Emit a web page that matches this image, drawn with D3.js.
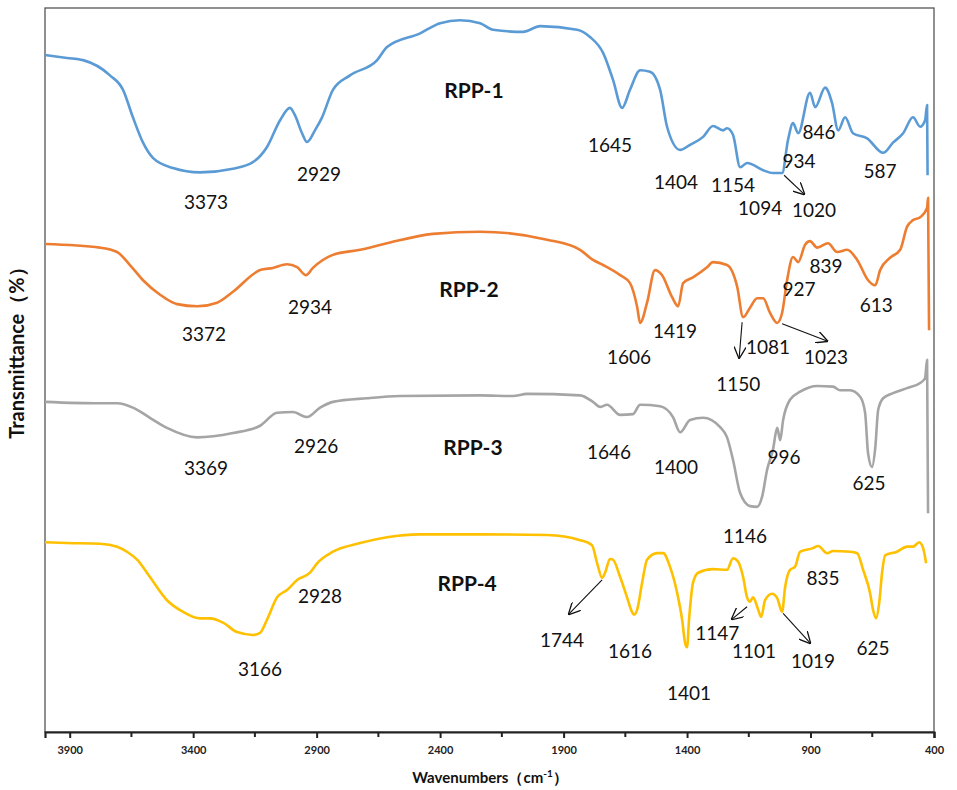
<!doctype html>
<html>
<head>
<meta charset="utf-8">
<title>FT-IR spectra RPP-1..4</title>
<script src="https://d3js.org/d3.v7.min.js"></script>
<style>
  body { margin: 0; background: #fff; }
  text { font-family: Lato, 'Noto Sans', sans-serif; }
  .peak { font-size: 19px; fill: #111; text-anchor: middle; dominant-baseline: central; }
  .name { font-size: 21px; font-weight: bold; fill: #111; text-anchor: middle; dominant-baseline: central; }
  .tick text { font-size: 11px; font-weight: bold; fill: #222; }
  .title { font-weight: bold; fill: #111; text-anchor: middle; }
</style>
</head>
<body>
<svg id="chart" width="957" height="790"></svg>
<script>
// ---- data (wavenumber cm-1, transmittance in arbitrary stacked units) ----
const xTicks = [3900, 3400, 2900, 2400, 1900, 1400, 900, 400];
const xMinorTicks = [3650, 3150, 2650, 2150, 1650, 1150, 650];

const rpp1Wn = [4000,3911,3846,3737,3684,3644,3603,3563,3482,3372,3239,3158,3101,3048,3008,2988,2959,2939,2907,2878,
  2834,2765,2655,2615,2481,2400,2319,2238,2186,2064,1995,1845,1793,1740,1700,1663,1631,1590,1550,1509,
  1481,1428,1388,1335,1295,1254,1238,1214,1185,1157,1092,1052,1015,991,971,950,902,881,841,813,
  788,760,728,671,606,566,525,485,456,436,428,426];
const rpp1T = [93.5,93.1,92.8,90.7,88.7,84.9,81.4,79.3,77.9,77.3,77.8,78.7,80.8,84.5,86.2,85.2,82.7,81.5,83.1,84.9,
  88.7,90.7,92.8,94.6,96.5,97.9,98.3,97.9,97.0,96.7,97.5,97.0,96.0,93.8,90.1,86.2,88.7,91.4,91.2,88.7,
  83.6,80.4,81.1,82.2,83.7,83.1,83.4,82.5,78.0,78.6,77.6,77.2,77.2,81.8,84.1,82.7,88.3,86.3,89.0,86.9,
  83.1,84.9,82.7,82.0,80.0,81.4,82.7,84.9,83.6,84.5,86.6,76.9];

const rpp2Wn = [4000,3777,3708,3656,3603,3534,3465,3384,3303,3239,3129,3077,3020,2979,2943,2915,2834,2724,2615,2429,
  2238,1967,1833,1781,1740,1671,1631,1602,1590,1562,1530,1501,1461,1436,1416,1376,1319,1295,1238,1197,
  1173,1145,1116,1092,1064,1035,1015,995,971,950,922,902,873,829,792,752,711,667,638,618,
  578,537,509,485,456,428,424,420];
const rpp2T = [67.4,66.9,66.3,64.5,62.4,60.4,59.1,58.8,59.3,60.8,63.8,64.1,64.6,64.2,63.1,64.1,65.9,66.6,67.5,68.8,
  69.1,68.0,66.6,65.2,64.5,63.1,62.0,58.7,56.5,59.3,63.8,63.1,60.1,58.8,62.0,62.8,64.2,64.9,64.5,61.5,
  57.3,58.6,59.9,59.9,57.9,56.5,57.9,62.4,65.6,64.9,67.3,67.8,66.9,67.5,66.3,66.6,65.2,62.4,61.7,63.8,
  65.5,66.6,69.8,70.7,71.1,72.4,73.8,55.5];

const rpp3Wn = [4000,3777,3708,3644,3575,3506,3384,3239,3129,3060,2996,2939,2886,2834,2696,2562,2238,2105,2048,1833,
  1781,1752,1724,1671,1619,1590,1509,1457,1428,1388,1335,1266,1238,1214,1185,1145,1116,1096,1076,1052,
  1035,1023,1011,983,942,873,809,780,740,699,679,667,651,638,626,606,566,509,456,436,428,424];
const rpp3T = [45.6,45.4,45.4,44.8,43.4,42.0,40.7,41.3,42.3,44.1,44.2,43.5,44.8,45.6,46.1,46.4,46.5,46.4,46.7,46.5,
  45.6,44.9,45.2,43.8,43.9,45.2,45.0,43.5,41.4,43.1,43.4,42.1,40.7,37.6,33.0,31.2,31.1,32.5,36.2,39.0,
  42.0,40.3,43.1,45.9,47.0,47.8,47.7,47.2,47.2,46.3,44.1,38.5,36.6,39.2,44.5,46.1,46.8,47.5,48.2,48.9,51.4,30.2];

const rpp4Wn = [4000,3911,3777,3708,3668,3627,3575,3506,3441,3372,3332,3279,3222,3158,3129,3101,3060,3020,2979,2927,
  2898,2834,2724,2615,2481,2238,1967,1833,1785,1764,1744,1732,1712,1700,1671,1643,1623,1615,1602,1582,
  1562,1521,1497,1469,1440,1420,1408,1400,1392,1376,1355,1295,1238,1214,1193,1173,1157,1145,1133,1112,
  1100,1084,1056,1035,1015,1003,983,963,942,890,869,833,809,740,711,687,659,647,635,622,
  610,598,550,509,485,460,444,432];
const rpp4T = [26.2,26.1,26.0,25.6,24.9,23.8,21.4,18.2,16.6,15.7,15.7,15.1,13.8,13.4,13.7,15.5,18.6,19.6,21.0,22.0,
  23.3,24.9,26.1,26.9,27.3,27.3,27.2,26.5,25.8,23.3,21.3,22.0,23.9,23.8,21.4,18.6,16.6,16.2,16.9,20.6,
  23.8,24.7,24.7,22.8,19.2,15.5,12.3,11.7,15.5,20.6,22.0,22.5,22.4,24.0,23.5,21.4,18.6,18.0,18.6,16.9,
  15.9,18.2,19.1,18.5,16.6,20.0,22.4,22.8,24.9,25.4,25.7,24.7,25.0,24.9,24.7,22.4,19.2,16.9,15.7,17.8,
  22.1,24.4,24.9,25.6,25.6,26.2,25.4,23.3];

const seriesNames = ["RPP-1", "RPP-2", "RPP-3", "RPP-4"];
const seriesColors = ["#5b9bd5", "#ed7d31", "#a5a5a5", "#ffc000"];

// series name labels (wn, T)
const nameWn = [2263, 2283, 2267, 2291];
const nameT = [88.7, 61.3, 39.4, 20.7];

// peak annotations: text, wn, T
const peakText = ["3373","2929","1645","1404","1154","1094","934","1020","846","587",
  "3372","2934","1606","1419","1081","1023","927","839","613","1150",
  "3369","2926","1646","1400","996","625","1146",
  "3166","2928","1744","1616","1401","1147","1101","1019","835","625"];
const peakWn = [3348,2890,1712,1445,1214,1104,947,886,866,619,
  3356,2927,1635,1449,1072,837,947,837,634,1193,
  3348,2902,1716,1445,1007,663,1165,
  3129,2886,1906,1631,1392,1278,1129,890,849,647];
const peakT = [73.3,77.1,81.2,76.1,75.6,72.5,78.9,72.1,82.9,77.6,
  55.0,58.8,51.9,55.5,53.3,51.9,61.3,64.5,59.0,48.1,
  36.6,39.6,38.7,36.7,38.0,34.5,27.2,
  8.8,18.9,12.8,11.3,5.5,13.7,11.3,9.9,21.4,11.7];

// arrows: from (wn,T) to (wn,T)
const arrowFromWn = [1007, 1177, 1015, 1744, 1157, 1011];
const arrowFromT = [76.9, 56.6, 56.4, 21.0, 17.3, 16.4];
const arrowToWn = [926, 1189, 833, 1878, 1218, 902];
const arrowToT = [74.3, 51.7, 54.0, 16.3, 15.6, 12.3];

// ---- drawing ----
const svg = d3.select("#chart");
const mLeft = 45, mRight = 934, mTop = 8, mBottom = 732;

const x = d3.scaleLinear().domain([4000, 400]).range([mLeft, mRight]);
const y = d3.scaleLinear().domain([0, 100]).range([mBottom, mTop]);

// frame
svg.append("rect")
  .attr("x", mLeft).attr("y", mTop)
  .attr("width", mRight - mLeft).attr("height", mBottom - mTop)
  .attr("fill", "none").attr("stroke", "#555").attr("stroke-width", 1.3);

// lines
const series = [[rpp1Wn, rpp1T], [rpp2Wn, rpp2T], [rpp3Wn, rpp3T], [rpp4Wn, rpp4T]];
const line = d3.line().x(d => x(d[0])).y(d => y(d[1])).curve(d3.curveMonotoneX);
series.forEach(function(s, i) {
  const pts = s[0].map((w, j) => [w, s[1][j]]);
  svg.append("path")
    .datum(pts)
    .attr("d", line)
    .attr("fill", "none")
    .attr("stroke", seriesColors[i])
    .attr("stroke-width", 2.6)
    .attr("stroke-linejoin", "round");
});

// bottom axis
const xAxis = d3.axisBottom(x).tickValues(xTicks).tickSize(6).tickPadding(8).tickFormat(d3.format("d"));
const gx = svg.append("g").attr("transform", `translate(0,${mBottom})`).call(xAxis);
gx.select(".domain").attr("stroke", "#222").attr("stroke-width", 2.2);
gx.selectAll(".tick line").attr("stroke", "#222").attr("stroke-width", 2);
svg.append("g").attr("transform", `translate(0,${mBottom})`)
  .selectAll("line").data(xMinorTicks).join("line")
  .attr("x1", d => x(d)).attr("x2", d => x(d))
  .attr("y1", 0).attr("y2", 5)
  .attr("stroke", "#222").attr("stroke-width", 2);

// axis titles
svg.append("text").attr("class", "title")
  .attr("x", 490).attr("y", 783).attr("font-size", "15px")
  .html('Wavenumbers（cm<tspan dy="-6" font-size="10px">-1</tspan><tspan dy="6">）</tspan>');
svg.append("text").attr("class", "title")
  .attr("font-size", "20px")
  .attr("transform", "translate(24,348) rotate(-90)")
  .text("Transmittance（%）");

// series names
svg.selectAll(".name").data(seriesNames).join("text")
  .attr("class", "name")
  .attr("x", (d, i) => x(nameWn[i]))
  .attr("y", (d, i) => y(nameT[i]))
  .text(d => d);

// peak labels
svg.selectAll(".peak").data(peakText).join("text")
  .attr("class", "peak")
  .attr("x", (d, i) => x(peakWn[i]))
  .attr("y", (d, i) => y(peakT[i]))
  .text(d => d);

// arrows
svg.append("defs").append("marker")
  .attr("id", "head").attr("viewBox", "0 0 10 10")
  .attr("refX", 9).attr("refY", 5)
  .attr("markerWidth", 12).attr("markerHeight", 12)
  .attr("markerUnits", "userSpaceOnUse")
  .attr("orient", "auto")
  .append("path").attr("d", "M0,0L10,5L0,10")
  .attr("fill", "none").attr("stroke", "#111").attr("stroke-width", 1.1);

svg.selectAll(".arrow").data(arrowFromWn).join("line")
  .attr("class", "arrow")
  .attr("x1", (d, i) => x(d)).attr("y1", (d, i) => y(arrowFromT[i]))
  .attr("x2", (d, i) => x(arrowToWn[i])).attr("y2", (d, i) => y(arrowToT[i]))
  .attr("stroke", "#111").attr("stroke-width", 1.1)
  .attr("marker-end", "url(#head)");
</script>
</body>
</html>
